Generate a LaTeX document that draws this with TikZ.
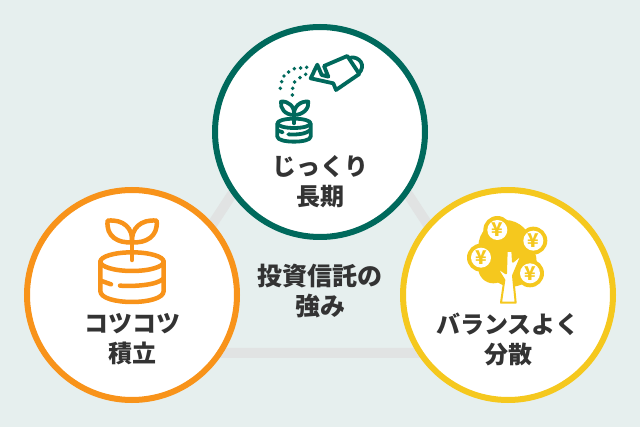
\documentclass[tikz,border=0pt]{standalone}
\usepackage{fontspec}
\setmainfont{Noto Sans CJK JP Black}
\definecolor{bgc}{HTML}{E6EFEE}
\definecolor{linkc}{HTML}{E1E3E3}
\definecolor{greenc}{HTML}{00695C}
\definecolor{orangec}{HTML}{F8931A}
\definecolor{yellowc}{HTML}{F5C81E}
\definecolor{textc}{HTML}{333333}
\tikzset{
  ring/.style={circle,draw,line width=6pt,fill=white,minimum size=210pt,inner sep=0pt},
  link/.style={draw=linkc,line width=10pt},
  lbl/.style={text=textc,align=center,font=\fontsize{24}{30}\selectfont,inner sep=0pt},
  midlabel/.style={text=textc,align=center,font=\fontsize{25}{30}\selectfont,inner sep=0pt},
  ico/.style={line width=3.8pt,line cap=round,line join=round},
  icob/.style={line width=4.5pt,line cap=round,line join=round},
  zoomA/.style={x=0.3333pt,y=-0.3333pt},
  yen/.style={text=yellowc,font=\fontsize{19}{19}\selectfont,inner sep=0pt},
}
\begin{document}
\begin{tikzpicture}[x=1pt,y=-1pt]
\useasboundingbox (0,0) rectangle (640,427);
\fill[bgc] (0,0) rectangle (640,427);
\coordinate (ta) at (320,60);
\coordinate (tl) at (128,353);
\coordinate (tr) at (512,353);
\draw[link] (ta) -- (tl) -- (tr) -- cycle;
\node[ring,draw=greenc] (top) at (320,132) {};
\node[ring,draw=orangec] (left) at (132,295) {};
\node[ring,draw=yellowc] (right) at (508,295) {};
\node[lbl] (toplbl) at (320,182) {じっくり\\長期};
\node[lbl] (leftlbl) at (132,339) {コツコツ\\積立};
\node[lbl] (rightlbl) at (508,339) {バランスよく\\分散};
\node[midlabel] (midlbl) at (320,291) {投資信託の\\強み};
% watering can and sprout
\begin{scope}[shift={(260,40)},zoomA,draw=greenc,ico]
  \draw (205,110) -- (192,78) -- (262,48) -- (298,102) -- (228,150) -- (220,130) -- (152,115) -- (172,74) -- (185,105) -- cycle;
  \draw (272,53) .. controls (295,48) and (322,75) .. (295,102);
  \foreach \px/\py in {140/82,122/84,103/86,86/96,72/108,65/125,61/145,137/103,120/113,104/126,98/145,97/165}
    \fill[greenc] (\px,\py) circle [radius=5.8];
  \draw (102,250) -- (102,225);
  \draw (102,225) .. controls (75,225) and (60,205) .. (63,185) .. controls (85,182) and (105,200) .. (102,225);
  \draw (102,225) .. controls (130,225) and (148,205) .. (145,185) .. controls (122,182) and (100,200) .. (102,225);
  \draw (102,250) ellipse [x radius=50,y radius=14];
  \draw (52,250) -- (52,290) .. controls (52,310) and (152,310) .. (152,290) -- (152,250);
  \draw (54,272) -- (68,277);
  \draw (85,283) .. controls (110,285) and (140,282) .. (150,270);
\end{scope}
% orange stack and sprout
\begin{scope}[shift={(85,205)},zoomA,draw=orangec,icob]
  \draw (141,165) -- (141,112);
  \draw (141,112) .. controls (100,115) and (62,95) .. (68,47) .. controls (115,42) and (145,70) .. (141,112);
  \draw (141,112) .. controls (182,115) and (220,95) .. (215,47) .. controls (168,42) and (138,70) .. (141,112);
  \draw (141,170) ellipse [x radius=95,y radius=28];
  \draw (46,170) -- (46,258) .. controls (46,302) and (236,302) .. (236,258) -- (236,170);
  \draw (50,228) -- (78,238);
  \draw (105,242) .. controls (150,245) and (215,240) .. (234,222);
\end{scope}
% money tree
\begin{scope}[shift={(455,205)},zoomA]
  \fill[yellowc] (150,125) circle [radius=80];
  \fill[yellowc] (170,170) circle [radius=75];
  \fill[yellowc] (115,190) circle [radius=45];
  \foreach \cx/\cy/\nm in {127/75/ya,235/107/yb,78/158/yc,225/205/yd}{
    \fill[yellowc] (\cx,\cy) circle [radius=42];
    \fill[white] (\cx,\cy) circle [radius=30];
    \node[yen] (\nm) at (\cx,\cy) {¥};
  }
  \filldraw[fill=white,draw=yellowc,line width=2pt,line join=round]
    (138,293) -- (182,293) -- (174,212) -- (202,146) -- (174,170) -- (172,138) -- (155,138) -- (153,205) -- (123,185) -- (148,225) -- cycle;
\end{scope}
\end{tikzpicture}
\end{document}
